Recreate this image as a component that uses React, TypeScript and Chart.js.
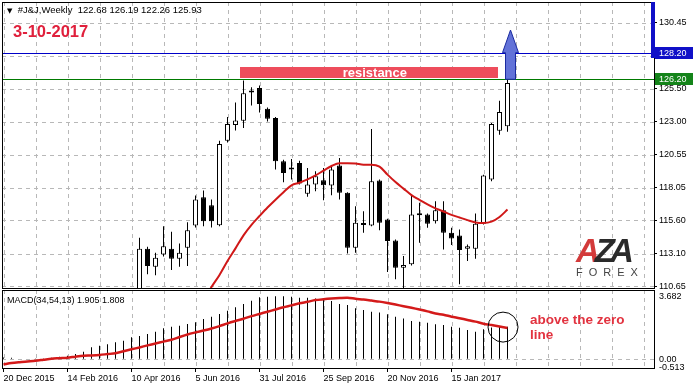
import React, { useEffect, useRef } from 'react';
import { Chart, registerables } from 'chart.js';

Chart.register(...registerables);

const FONT = '"Liberation Sans", Arial, sans-serif';

// ---------------- data ----------------
const symbolTitle = '#J&J,Weekly';
const lastBarOHLC = [122.68, 126.19, 122.26, 125.93];
const chartDate = '3-10-2017';
const macdTitle = 'MACD(34,54,13)';
const macdLastValues = [1.905, 1.808];

const dateLabels = ['20 Dec 2015', '14 Feb 2016', '10 Apr 2016', '5 Jun 2016', '31 Jul 2016', '25 Sep 2016', '20 Nov 2016', '15 Jan 2017'];
const priceTicks = [130.45, 127.95, 125.5, 123.0, 120.55, 118.05, 115.6, 113.1, 110.65];
const macdTicks = [3.682, 0, -0.513];

// weekly candles, first visible one is bar #17 (week of 17 Apr 2016)
const firstCandle = 17;
const candleOpen = [109.9, 113.48, 112.13, 113.05, 113.48, 112.73, 113.55, 115.22, 117.34, 116.74, 115.24, 121.59, 122.76, 123.09, 125.26, 125.54, 123.99, 123.29, 120.04, 119.47, 119.92, 117.6, 118.29, 118.61, 118.22, 119.72, 117.67, 113.55, 115.3, 115.22, 118.59, 115.67, 114.1, 112.05, 112.3, 116.1, 116.04, 115.54, 116.37, 114.67, 114.47, 113.48, 113.48, 115.35, 118.67, 122.34, 122.68];
const candleHigh = [114.3, 113.63, 113.18, 115.17, 114.75, 113.87, 115.47, 117.47, 117.84, 117.17, 121.59, 123.36, 124.46, 126.11, 125.61, 125.73, 124.08, 123.36, 120.16, 120.22, 120.09, 119.54, 119.29, 119.54, 119.72, 120.29, 117.72, 116.67, 116.29, 122.46, 118.67, 115.72, 114.17, 112.92, 117.47, 116.92, 116.12, 117.04, 117.04, 115.05, 114.92, 113.8, 116.12, 119.04, 122.91, 124.58, 126.19];
const candleLow = [109.6, 111.55, 111.48, 112.9, 111.87, 112.13, 112.17, 115.07, 115.17, 115.07, 115.17, 121.46, 122.36, 122.54, 124.23, 123.71, 123.03, 119.42, 118.46, 118.67, 118.29, 117.37, 117.79, 117.12, 117.49, 117.17, 113.12, 113.18, 114.67, 115.17, 114.87, 111.72, 111.18, 110.3, 112.22, 113.92, 115.05, 115.37, 113.42, 113.75, 110.8, 112.55, 112.73, 115.3, 118.54, 122.04, 122.26];
const candleClose = [113.48, 112.17, 112.8, 113.67, 112.73, 113.18, 114.87, 117.17, 115.54, 115.54, 121.34, 122.84, 123.11, 125.16, 125.21, 124.34, 123.24, 120.04, 119.17, 119.42, 118.37, 118.29, 118.91, 118.24, 119.42, 117.67, 113.55, 115.42, 115.26, 118.55, 115.42, 114.05, 112.05, 112.25, 116.04, 115.99, 115.35, 116.37, 114.67, 114.25, 113.37, 113.67, 115.35, 118.97, 122.84, 123.74, 125.93];

// red moving average, starting at bar #25
const maFirst = 25;
const maValues = [109.6, 110.6, 111.5, 112.55, 113.5, 114.48, 115.27, 115.93, 116.57, 117.16, 117.72, 118.24, 118.43, 118.68, 118.98, 119.34, 119.69, 119.9, 119.9, 119.87, 119.79, 119.79, 119.64, 119.04, 118.48, 117.99, 117.5, 117.15, 116.8, 116.51, 116.27, 116.02, 115.82, 115.62, 115.45, 115.41, 115.51, 115.86, 116.42];

// MACD histogram and signal, bars #0..#63
const macdMain = [0.1, 0.08, 0.03, 0.0, 0.01, 0.02, 0.09, 0.15, 0.2, 0.3, 0.44, 0.7, 0.79, 0.87, 0.99, 1.08, 1.28, 1.36, 1.47, 1.61, 1.81, 1.9, 1.96, 2.06, 2.16, 2.35, 2.49, 2.64, 2.84, 3.04, 3.23, 3.42, 3.62, 3.66, 3.68, 3.682, 3.66, 3.6, 3.59, 3.56, 3.46, 3.41, 3.23, 3.17, 2.98, 2.88, 2.78, 2.74, 2.63, 2.49, 2.39, 2.24, 2.19, 2.14, 2.04, 2.0, 1.9, 1.84, 1.71, 1.61, 1.75, 1.85, 1.89, 1.905];
const macdSignal = [-0.3, -0.22, -0.17, -0.13, -0.09, -0.03, 0.03, 0.06, 0.09, 0.15, 0.2, 0.22, 0.25, 0.3, 0.35, 0.47, 0.58, 0.69, 0.81, 0.92, 1.03, 1.14, 1.3, 1.45, 1.57, 1.68, 1.8, 1.94, 2.1, 2.24, 2.37, 2.52, 2.65, 2.78, 2.91, 3.04, 3.15, 3.27, 3.36, 3.46, 3.51, 3.55, 3.58, 3.6, 3.54, 3.49, 3.43, 3.37, 3.29, 3.2, 3.1, 3.01, 2.91, 2.8, 2.67, 2.6, 2.49, 2.4, 2.3, 2.2, 2.08, 2.0, 1.92, 1.83];

const resistanceLevel = 126.2;
const targetLevel = 128.2;

// ---------------- annotation anchors (data units) ----------------
const ZONE = { from: 29.56, to: 61.78, low: 126.27, high: 127.15, textAt: 42.4 };
const ARROW = { at: 63.375, tip: 129.9 };
const CIRCLE = { at: 62.44, value: 1.88 };
const NOTE = { at: 65.8, line1: 2.29, line2: 1.38 };

// ---------------- scale ranges ----------------
const X_MIN = -0.1875;
const X_MAX = 81.3125;
const PRICE_MIN = 110.525;
const PRICE_MAX = 132.005;
const MACD_MIN = -0.513;
const MACD_MAX = 4.05;
const gridSteps = Array.from({ length: 21 }, (_, k) => k * 4);

const GRID = '#b8b8b8';

function zeroPadding(s: any) {
  s.paddingLeft = 0;
  s.paddingRight = 0;
  s.paddingTop = 0;
  s.paddingBottom = 0;
}

// dashed grid drawn from the scales' own ticks
function drawDashedGrid(chart: any, yFilter: (v: number) => boolean) {
  const { ctx, chartArea: a, scales } = chart;
  ctx.save();
  ctx.beginPath();
  ctx.rect(a.left, a.top, a.right - a.left, a.bottom - a.top);
  ctx.clip();
  ctx.strokeStyle = GRID;
  ctx.lineWidth = 1;
  ctx.setLineDash([4, 4]);
  for (const t of scales.x.ticks) {
    const px = Math.round(scales.x.getPixelForValue(t.value)) + 0.5;
    ctx.beginPath();
    ctx.moveTo(px, a.top);
    ctx.lineTo(px, a.bottom);
    ctx.stroke();
  }
  for (const t of scales.y.ticks) {
    if (!yFilter(t.value)) continue;
    const py = Math.round(scales.y.getPixelForValue(t.value)) + 0.5;
    ctx.beginPath();
    ctx.moveTo(a.left, py);
    ctx.lineTo(a.right, py);
    ctx.stroke();
  }
  ctx.restore();
}

const mainOverlay = {
  id: 'mainOverlay',
  beforeDatasetsDraw(chart: any) {
    drawDashedGrid(chart, () => true);
    const { ctx, chartArea: a, scales } = chart;
    const y = scales.y;
    ctx.save();
    ctx.lineWidth = 1;
    const yb = Math.round(y.getPixelForValue(targetLevel)) + 0.5;
    ctx.strokeStyle = '#0000c8';
    ctx.beginPath();
    ctx.moveTo(a.left, yb);
    ctx.lineTo(a.right, yb);
    ctx.stroke();
    const yg = Math.round(y.getPixelForValue(resistanceLevel)) + 0.5;
    ctx.strokeStyle = '#007a00';
    ctx.beginPath();
    ctx.moveTo(a.left, yg);
    ctx.lineTo(a.right, yg);
    ctx.stroke();
    ctx.restore();
  },
  afterDatasetsDraw(chart: any) {
    const { ctx, scales } = chart;
    const x = scales.x;
    const y = scales.y;
    ctx.save();
    // resistance zone
    const x0 = Math.round(x.getPixelForValue(ZONE.from));
    const x1 = Math.round(x.getPixelForValue(ZONE.to));
    const y0 = Math.round(y.getPixelForValue(ZONE.high));
    const y1 = Math.round(y.getPixelForValue(ZONE.low));
    ctx.fillStyle = '#ee4d5c';
    ctx.fillRect(x0, y0, x1 - x0, y1 - y0);
    ctx.fillStyle = '#ffffff';
    ctx.font = `bold 13px ${FONT}`;
    ctx.textBaseline = 'middle';
    ctx.textAlign = 'left';
    ctx.fillText('resistance', x.getPixelForValue(ZONE.textAt), (y0 + y1) / 2 + 0.5);

    // arrow
    const xc = x.getPixelForValue(ARROW.at);
    const yBase = y.getPixelForValue(resistanceLevel);
    const yNeck = y.getPixelForValue(targetLevel);
    const yTip = y.getPixelForValue(ARROW.tip);
    ctx.beginPath();
    ctx.moveTo(xc - 5, yBase);
    ctx.lineTo(xc - 5, yNeck);
    ctx.lineTo(xc - 8, yNeck);
    ctx.lineTo(xc, yTip);
    ctx.lineTo(xc + 8, yNeck);
    ctx.lineTo(xc + 5, yNeck);
    ctx.lineTo(xc + 5, yBase);
    ctx.closePath();
    ctx.fillStyle = '#6272d8';
    ctx.fill();
    ctx.strokeStyle = '#1a2aa0';
    ctx.lineWidth = 1;
    ctx.stroke();
    ctx.restore();
  },
  afterDraw(chart: any) {
    const { ctx, chartArea: a, scales } = chart;
    const y = scales.y;
    ctx.save();
    ctx.strokeStyle = '#000';
    ctx.lineWidth = 1;
    ctx.strokeRect(a.left + 0.5, a.top + 0.5, a.right - a.left, a.bottom - a.top);

    const yb = Math.round(y.getPixelForValue(targetLevel));
    const yg = Math.round(y.getPixelForValue(resistanceLevel));
    ctx.fillStyle = '#1010c8';
    ctx.fillRect(a.right - 3, a.top, 4, yb + 5 - a.top);
    const tag = (yp: number, text: string, bg: string) => {
      ctx.fillStyle = bg;
      ctx.fillRect(a.right + 1, yp - 6, 38, 12);
      ctx.fillStyle = '#fff';
      ctx.font = `9px ${FONT}`;
      ctx.textBaseline = 'middle';
      ctx.textAlign = 'left';
      ctx.fillText(text, a.right + 5, yp + 0.5);
    };
    tag(yb, targetLevel.toFixed(2), '#1010c8');
    tag(yg, resistanceLevel.toFixed(2), '#14841a');
    ctx.restore();
  },
};

const macdOverlay = {
  id: 'macdOverlay',
  beforeDatasetsDraw(chart: any) {
    drawDashedGrid(chart, (v) => v === 0);
  },
  afterDraw(chart: any) {
    const { ctx, chartArea: a, scales } = chart;
    const x = scales.x;
    const y = scales.y;
    ctx.save();
    ctx.strokeStyle = '#000';
    ctx.lineWidth = 1;
    ctx.strokeRect(a.left + 0.5, a.top + 0.5, a.right - a.left, a.bottom - a.top);
    ctx.beginPath();
    ctx.arc(x.getPixelForValue(CIRCLE.at), y.getPixelForValue(CIRCLE.value), 15, 0, Math.PI * 2);
    ctx.stroke();
    ctx.fillStyle = '#e2323f';
    ctx.font = `bold 13.5px ${FONT}`;
    ctx.textBaseline = 'middle';
    ctx.textAlign = 'left';
    ctx.fillText('above the zero', x.getPixelForValue(NOTE.at), y.getPixelForValue(NOTE.line1));
    ctx.fillText('line', x.getPixelForValue(NOTE.at), y.getPixelForValue(NOTE.line2));
    ctx.restore();
  },
};

function xScale(showLabels: boolean) {
  return {
    type: 'linear',
    min: X_MIN,
    max: X_MAX,
    offset: false,
    afterBuildTicks: (s: any) => {
      s.ticks = gridSteps.map((value) => ({ value }));
    },
    afterFit: (s: any) => {
      s.height = showLabels ? 22 : 1;
      zeroPadding(s);
    },
    grid: {
      offset: false,
      drawOnChartArea: false,
      color: GRID,
      drawTicks: showLabels,
      tickLength: 4,
      tickBorderDash: [],
      tickColor: (c: any) => {
        const v = c.tick ? c.tick.value : -1;
        return v % 8 === 0 && v / 8 < dateLabels.length ? '#000' : 'rgba(0,0,0,0)';
      },
    },
    border: { display: false },
    ticks: {
      display: showLabels,
      autoSkip: false,
      maxRotation: 0,
      minRotation: 0,
      align: 'start',
      padding: 1,
      color: '#000',
      font: { family: FONT, size: 9 },
      callback: (v: any) => {
        const k = Number(v);
        return k % 8 === 0 && k / 8 < dateLabels.length ? dateLabels[k / 8] : '';
      },
    },
  };
}

export default function App() {
  const mainRef = useRef<HTMLCanvasElement>(null);
  const macdRef = useRef<HTMLCanvasElement>(null);

  useEffect(() => {
    const idxs = candleOpen.map((_, k) => firstCandle + k);
    const bull = candleOpen.map((o, k) => candleClose[k] >= o);

    const main = new Chart(mainRef.current as HTMLCanvasElement, {
      type: 'bar',
      data: {
        datasets: [
          {
            type: 'bar',
            label: 'wick',
            data: idxs.map((x, k) => ({ x, y: [candleLow[k], candleHigh[k]] })),
            backgroundColor: '#000',
            borderWidth: 0,
            barThickness: 1,
            inflateAmount: 0,
            grouped: false,
            order: 3,
            clip: 0,
          },
          {
            type: 'bar',
            label: 'body',
            data: idxs.map((x, k) => ({ x, y: [candleOpen[k], candleClose[k]] })),
            backgroundColor: bull.map((b) => (b ? '#ffffff' : '#000000')),
            borderColor: '#000',
            borderWidth: 1,
            borderSkipped: false,
            barThickness: 5,
            minBarLength: 2,
            inflateAmount: 0,
            grouped: false,
            order: 2,
            clip: 0,
          },
          {
            type: 'line',
            label: 'MA',
            data: maValues.map((v, k) => ({ x: maFirst + k, y: v })),
            borderColor: '#d01818',
            borderWidth: 2,
            pointRadius: 0,
            cubicInterpolationMode: 'monotone',
            order: 1,
            clip: 0,
          },
        ],
      } as any,
      options: {
        responsive: false,
        animation: false,
        devicePixelRatio: 1,
        events: [],
        layout: { padding: { left: 2, top: 2, right: 0, bottom: 0 } },
        plugins: { legend: { display: false }, tooltip: { enabled: false } },
        scales: {
          x: xScale(false),
          y: {
            type: 'linear',
            position: 'right',
            min: PRICE_MIN,
            max: PRICE_MAX,
            afterBuildTicks: (s: any) => {
              s.ticks = priceTicks.map((value) => ({ value }));
            },
            afterFit: (s: any) => {
              s.width = 39;
              zeroPadding(s);
            },
            grid: { drawOnChartArea: false, color: GRID, tickLength: 3, tickColor: '#000', tickBorderDash: [] },
            border: { display: false },
            ticks: {
              autoSkip: false,
              padding: 2,
              color: '#000',
              font: { family: FONT, size: 9 },
              callback: (v: any) => Number(v).toFixed(2),
            },
          },
        },
      } as any,
      plugins: [mainOverlay],
    });

    const macd = new Chart(macdRef.current as HTMLCanvasElement, {
      type: 'bar',
      data: {
        datasets: [
          {
            type: 'bar',
            label: 'MACD',
            data: macdMain.map((v, i) => ({ x: i, y: v })),
            backgroundColor: '#000',
            borderWidth: 0,
            barThickness: 1,
            inflateAmount: 0,
            order: 2,
            clip: 0,
          },
          {
            type: 'line',
            label: 'Signal',
            data: macdSignal.map((v, i) => ({ x: i, y: v })),
            borderColor: '#d41a1a',
            borderWidth: 2.5,
            pointRadius: 0,
            tension: 0.3,
            order: 1,
            clip: 0,
          },
        ],
      } as any,
      options: {
        responsive: false,
        animation: false,
        devicePixelRatio: 1,
        events: [],
        layout: { padding: { left: 2, top: 1, right: 0, bottom: 0 } },
        plugins: { legend: { display: false }, tooltip: { enabled: false } },
        scales: {
          x: xScale(true),
          y: {
            type: 'linear',
            position: 'right',
            min: MACD_MIN,
            max: MACD_MAX,
            afterBuildTicks: (s: any) => {
              s.ticks = macdTicks.map((value) => ({ value }));
            },
            afterFit: (s: any) => {
              s.width = 39;
              zeroPadding(s);
            },
            grid: {
              drawOnChartArea: false,
              tickLength: 3,
              tickColor: 'rgba(0,0,0,0)',
              tickBorderDash: [],
            },
            border: { display: false },
            ticks: {
              autoSkip: false,
              padding: 2,
              color: '#000',
              font: { family: FONT, size: 9 },
              callback: (v: any) => (Number(v) === 0 ? '0.00' : Number(v).toFixed(3)),
            },
          },
        },
      } as any,
      plugins: [macdOverlay],
    });

    return () => {
      main.destroy();
      macd.destroy();
    };
  }, []);

  const headerText = `${symbolTitle}  ${lastBarOHLC.map((v) => v.toFixed(2)).join(' ')}`;
  const macdText = `${macdTitle} ${macdLastValues.map((v) => v.toFixed(3)).join(' ')}`;

  return (
    <div style={{ position: 'fixed', left: 0, top: 0, width: 693, height: 390, background: '#fff', overflow: 'hidden' }}>
      <canvas ref={mainRef} width={693} height={289} style={{ position: 'absolute', left: 0, top: 0, width: 693, height: 289 }} />
      <canvas ref={macdRef} width={693} height={101} style={{ position: 'absolute', left: 0, top: 289, width: 693, height: 101 }} />
      <div style={{ position: 'absolute', left: 7, top: 4, font: `9.5px ${FONT}`, lineHeight: '12px', whiteSpace: 'pre', color: '#000' }}>
        <span style={{ fontSize: 7, fontFamily: '"DejaVu Sans", sans-serif' }}>▼</span>
        {'  '}
        {headerText}
      </div>
      <div style={{ position: 'absolute', left: 13, top: 22, font: `bold 16.5px ${FONT}`, lineHeight: '18px', color: '#e0203c', whiteSpace: 'pre' }}>
        {chartDate}
      </div>
      <div style={{ position: 'absolute', left: 7, top: 294, font: `9px ${FONT}`, lineHeight: '12px', color: '#000', whiteSpace: 'pre' }}>
        {macdText}
      </div>
      <div style={{ position: 'absolute', left: 576, top: 234, font: `italic bold 33px ${FONT}`, lineHeight: '33px', letterSpacing: '-5px', whiteSpace: 'pre' }}>
        <span style={{ color: '#d33a3a' }}>A</span>
        <span style={{ color: '#2a2a2a' }}>Z</span>
        <span style={{ color: '#2a2a2a' }}>A</span>
      </div>
      <div style={{ position: 'absolute', left: 576, top: 265, font: `11px ${FONT}`, lineHeight: '14px', letterSpacing: '6px', color: '#444', whiteSpace: 'pre' }}>
        FOREX
      </div>
    </div>
  );
}
